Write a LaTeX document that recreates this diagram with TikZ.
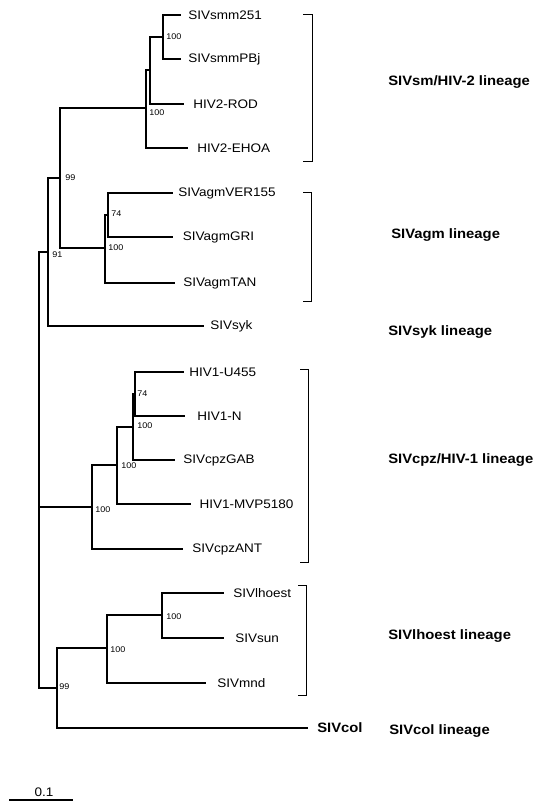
\documentclass[tikz,border=0pt]{standalone}
\usepackage{fontspec}
\setmainfont{Liberation Sans}[FakeStretch=1.09]
\usetikzlibrary{positioning}

\begin{document}
\begin{tikzpicture}[x=0.75pt, y=-0.75pt]
  \tikzstyle{branch} = [draw, line width=2pt, line cap=rect]
  \tikzstyle{bracket} = [draw, line width=0.6pt]
  \tikzstyle{leaf} = [anchor=west, inner ysep=0pt, font=\fontsize{9.3}{11}\selectfont]
  \tikzstyle{boot} = [anchor=west, inner sep=0pt, font=\fontsize{6.2}{7}\selectfont]
  \tikzstyle{lineage} = [anchor=west, inner sep=0pt, font=\fontsize{10.2}{12}\selectfont\bfseries]
  \useasboundingbox (0,0) rectangle (542,811);

      % Place internal nodes
      \coordinate (root) at (39,470);
      \coordinate (n91) at (48,252);
      \coordinate (n99) at (60,178);
      \coordinate (nsm) at (146,108);
      \coordinate (nsm2) at (150,70);
      \coordinate (nsmm) at (163,37);
      \coordinate (nagm) at (105,248);
      \coordinate (nagm2) at (108,215);
      \coordinate (ncpz) at (92,507);
      \coordinate (ncpz2) at (117,465);
      \coordinate (ncpz3) at (133,427);
      \coordinate (ncpz4) at (135,394);
      \coordinate (nlh) at (57,688);
      \coordinate (nlh2) at (107,648);
      \coordinate (nlh3) at (162,615);

      % Place leaves
      \node [leaf, inner xsep=6pt] (smm251) at (180,15) {SIVsmm251};
      \node [leaf, inner xsep=6pt] (smmPBj) at (180,59) {SIVsmmPBj};
      \node [leaf, inner xsep=7.5pt] (rod) at (183,104) {HIV2-ROD};
      \node [leaf, inner xsep=7.5pt] (ehoa) at (187,148) {HIV2-EHOA};
      \node [leaf, inner xsep=4.5pt] (ver) at (172,193) {SIVagmVER155};
      \node [leaf, inner xsep=8pt] (gri) at (172,237) {SIVagmGRI};
      \node [leaf, inner xsep=6.75pt] (tan) at (174,283) {SIVagmTAN};
      \node [leaf, inner xsep=5.25pt] (syk) at (203,326) {SIVsyk};
      \node [leaf, inner xsep=4.5pt] (u455) at (183,372) {HIV1-U455};
      \node [leaf, inner xsep=9.75pt] (hivn) at (184,416) {HIV1-N};
      \node [leaf, inner xsep=6.75pt] (gab) at (174,460) {SIVcpzGAB};
      \node [leaf, inner xsep=7pt] (mvp) at (190,504) {HIV1-MVP5180};
      \node [leaf, inner xsep=7.5pt] (ant) at (182,549) {SIVcpzANT};
      \node [leaf, inner xsep=7.5pt] (lhoest) at (223,593) {SIVlhoest};
      \node [leaf, inner xsep=9pt] (sun) at (223,638) {SIVsun};
      \node [leaf, inner xsep=9pt] (mnd) at (205,683) {SIVmnd};
      \node [leaf, inner xsep=7.5pt, font=\fontsize{10.2}{12}\selectfont\bfseries] (col) at (307,728) {SIVcol};

      % bootstrap values
      \node [boot] (b1) at (166,37) {100};
      \node [boot] (b2) at (149,113) {100};
      \node [boot] (b3) at (111,214) {74};
      \node [boot] (b4) at (108,248) {100};
      \node [boot] (b5) at (65,178) {99};
      \node [boot] (b6) at (52,255) {91};
      \node [boot] (b7) at (137,394) {74};
      \node [boot] (b8) at (137,426) {100};
      \node [boot] (b9) at (121,466) {100};
      \node [boot] (b10) at (95,510) {100};
      \node [boot] (b11) at (166,617) {100};
      \node [boot] (b12) at (110,650) {100};
      \node [boot] (b13) at (59,687) {99};

      % lineages
      \node [lineage] (smline) at (388,82) {SIVsm/HIV-2 lineage};
      \node [lineage] (agmline) at (391,235) {SIVagm lineage};
      \node [lineage] (sykline) at (388,332) {SIVsyk lineage};
      \node [lineage] (cpzline) at (388,460) {SIVcpz/HIV-1 lineage};
      \node [lineage] (lhline) at (388,636) {SIVlhoest lineage};
      \node [lineage] (colline) at (389,731) {SIVcol lineage};

  %paths
      \path [branch] (root) |- (n91);
      \path [branch] (root) |- (ncpz);
      \path [branch] (root) |- (nlh);
      \path [branch] (n91) |- (n99);
      \path [branch] (n91) |- (syk.west);
      \path [branch] (n99) |- (nsm);
      \path [branch] (n99) |- (nagm);
      \path [branch] (nsm) |- (nsm2);
      \path [branch] (nsm) |- (ehoa.west);
      \path [branch] (nsm2) |- (nsmm);
      \path [branch] (nsm2) |- (rod.west);
      \path [branch] (nsmm) |- (smm251.west);
      \path [branch] (nsmm) |- (smmPBj.west);
      \path [branch] (nagm) |- (nagm2);
      \path [branch] (nagm) |- (tan.west);
      \path [branch] (nagm2) |- (ver.west);
      \path [branch] (nagm2) |- (gri.west);
      \path [branch] (ncpz) |- (ncpz2);
      \path [branch] (ncpz) |- (ant.west);
      \path [branch] (ncpz2) |- (ncpz3);
      \path [branch] (ncpz2) |- (mvp.west);
      \path [branch] (ncpz3) |- (ncpz4);
      \path [branch] (ncpz3) |- (gab.west);
      \path [branch] (ncpz4) |- (u455.west);
      \path [branch] (ncpz4) |- (hivn.west);
      \path [branch] (nlh) |- (nlh2);
      \path [branch] (nlh) |- (col.west);
      \path [branch] (nlh2) |- (nlh3);
      \path [branch] (nlh2) |- (mnd.west);
      \path [branch] (nlh3) |- (lhoest.west);
      \path [branch] (nlh3) |- (sun.west);

  %brackets
      \path [bracket] (303,14) -- (312,14) -- (312,161) -- (303,161);
      \path [bracket] (303,192) -- (311,192) -- (311,301) -- (303,301);
      \path [bracket] (300,369) -- (308,369) -- (308,562) -- (300,562);
      \path [bracket] (298,585) -- (306,585) -- (306,695) -- (298,695);

  %scale bar
      \coordinate (sb1) at (9,800);
      \coordinate (sb2) at (73,800);
      \path [branch, line cap=butt] (sb1) -- (sb2);
      \node [leaf, anchor=center, inner sep=0pt] (sblabel) at (44,792) {0.1};

  \end{tikzpicture}
\end{document}
